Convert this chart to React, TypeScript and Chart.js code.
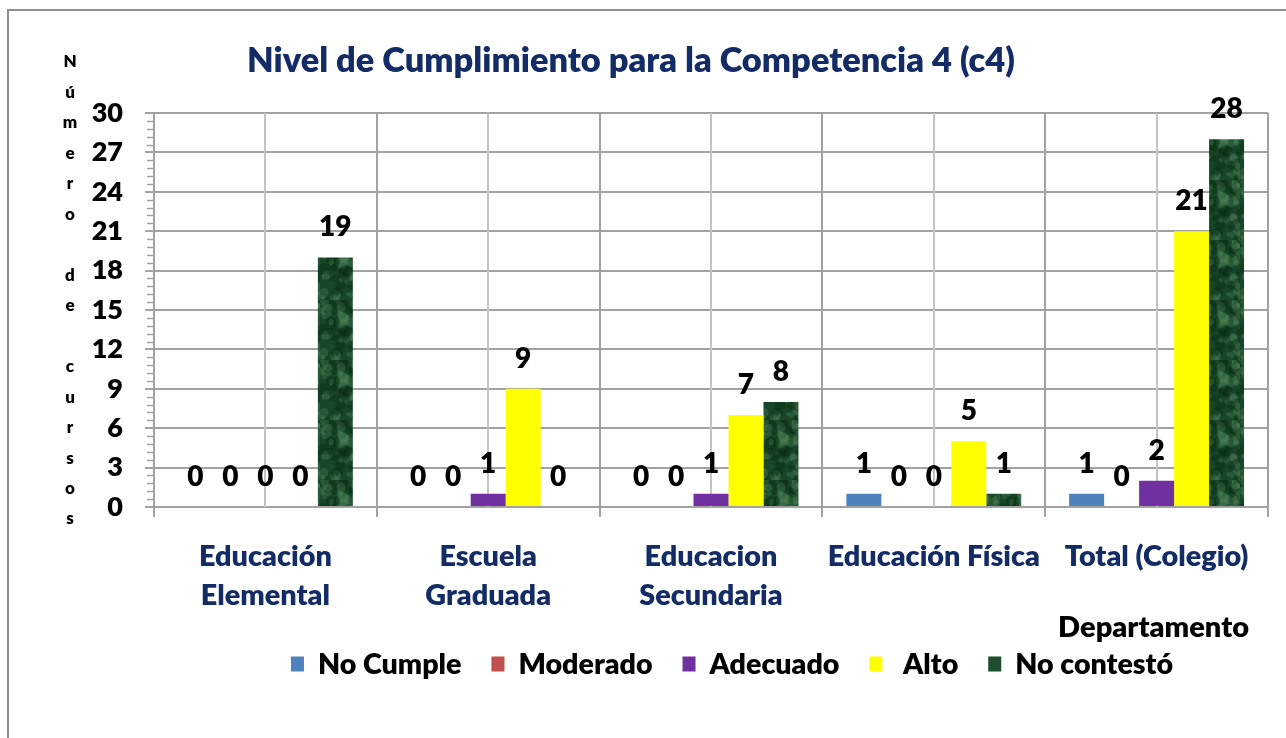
import React, { useEffect, useRef } from 'react';
import { Chart, registerables } from 'chart.js';

Chart.register(...registerables);

// ---------- data ----------
const categories: string[][] = [
  ['Educación', 'Elemental'],
  ['Escuela', 'Graduada'],
  ['Educacion', 'Secundaria'],
  ['Educación Física'],
  ['Total (Colegio)'],
];
const seriesNames = ['No Cumple', 'Moderado', 'Adecuado', ' Alto', 'No contestó'];
const noCumple = [0, 0, 0, 1, 1];
const moderado = [0, 0, 0, 0, 0];
const adecuado = [0, 1, 1, 0, 2];
const alto = [0, 9, 7, 5, 21];
const noContesto = [19, 0, 8, 1, 28];
const yMin = 0;
const yMax = 30;
const yStep = 3;
const chartTitle = 'Nivel de Cumplimiento para la Competencia 4 (c4)';
const yAxisTitle = 'Número de cursos';
const xAxisTitle = 'Departamento';

// ---------- styles ----------
const FONT = 'Lato, "Open Sans", sans-serif';
const W = 800;
const NAVY = '#132C66';
const GRID = '#A2A2A2';
const GRID_MINOR = '#C4C4C4';
const seriesColors = ['#4F81BD', '#C0504D', '#7030A0', '#FFFF00', '#1D4D2C'];

function hash(n: number): number {
  const s = Math.sin(n * 12.9898 + 78.233) * 43758.5453;
  return s - Math.floor(s);
}

function makeMarble(ctx: CanvasRenderingContext2D): CanvasPattern | string {
  const c = document.createElement('canvas');
  c.width = 40;
  c.height = 60;
  const g = c.getContext('2d');
  if (!g) return '#1D4D2C';
  g.fillStyle = '#174527';
  g.fillRect(0, 0, 40, 60);
  for (let i = 0; i < 70; i++) {
    const x = hash(i) * 40;
    const y = hash(i + 100) * 60;
    const r = 1.5 + hash(i + 200) * 5;
    const light = hash(i + 300) > 0.55;
    g.fillStyle = light ? 'rgba(110,170,120,0.22)' : 'rgba(5,40,15,0.35)';
    g.beginPath();
    g.ellipse(x, y, r, r * (0.6 + hash(i + 400)), hash(i + 500) * 3, 0, Math.PI * 2);
    g.fill();
  }
  return ctx.createPattern(c, 'repeat') || '#1D4D2C';
}

const decorPlugin = {
  id: 'decor',
  beforeDraw(chart: any) {
    const ctx = chart.ctx as CanvasRenderingContext2D;
    ctx.save();
    ctx.fillStyle = '#ffffff';
    ctx.fillRect(0, 0, chart.width, chart.height);
    ctx.strokeStyle = '#8E8E8E';
    ctx.lineWidth = 2;
    ctx.beginPath();
    ctx.moveTo(8, chart.height + 5);
    ctx.lineTo(8, 10);
    ctx.lineTo(chart.width + 5, 10);
    ctx.stroke();
    ctx.restore();
  },
  beforeDatasetsDraw(chart: any) {
    const ctx = chart.ctx as CanvasRenderingContext2D;
    const xs = chart.scales.x;
    const ys = chart.scales.y;
    const area = chart.chartArea;
    ctx.save();
    ctx.strokeStyle = GRID_MINOR;
    ctx.lineWidth = 2;
    for (let i = 0; i < categories.length; i++) {
      const x = Math.round(xs.getPixelForValue(i));
      ctx.beginPath();
      ctx.moveTo(x, area.top);
      ctx.lineTo(x, area.bottom);
      ctx.stroke();
    }
    ctx.strokeStyle = GRID;
    ctx.lineWidth = 1.5;
    const minorStep = yStep / 5;
    for (let k = 0; k * minorStep <= yMax + 1e-9; k++) {
      if (k % 5 === 0) continue;
      const y = Math.round(ys.getPixelForValue(k * minorStep)) + 0.5;
      ctx.beginPath();
      ctx.moveTo(area.left - 7, y);
      ctx.lineTo(area.left, y);
      ctx.stroke();
    }
    ctx.restore();
  },
  afterDatasetsDraw(chart: any) {
    const ctx = chart.ctx as CanvasRenderingContext2D;
    ctx.save();
    ctx.fillStyle = '#000000';
    ctx.font = `${W} 28px ${FONT}`;
    ctx.textAlign = 'center';
    ctx.textBaseline = 'middle';
    chart.data.datasets.forEach((ds: any, di: number) => {
      const meta = chart.getDatasetMeta(di);
      meta.data.forEach((el: any, i: number) => {
        ctx.fillText(String(ds.data[i]), el.x, el.y - 30);
      });
    });
    ctx.restore();
  },
  afterDraw(chart: any) {
    const ctx = chart.ctx as CanvasRenderingContext2D;
    ctx.save();
    ctx.fillStyle = NAVY;
    ctx.font = `${W} 34.4px ${FONT}`;
    ctx.textAlign = 'center';
    ctx.textBaseline = 'middle';
    ctx.fillText(chartTitle, 631, 61);
    ctx.fillStyle = '#000000';
    ctx.font = `${W} 17px ${FONT}`;
    const letters = Array.from(yAxisTitle);
    const y0 = 62;
    const y1 = 519;
    const step = (y1 - y0) / (letters.length - 1);
    letters.forEach((ch, i) => {
      if (ch !== ' ') ctx.fillText(ch, 70, y0 + i * step);
    });
    ctx.font = `${W} 29px ${FONT}`;
    ctx.textAlign = 'right';
    ctx.fillText(xAxisTitle, 1249, 628);
    ctx.font = `${W} 28.6px ${FONT}`;
    ctx.textAlign = 'left';
    const boxW = 13;
    const boxH = 15;
    const gapBox = 14;
    const gapItem = 30;
    const widths = seriesNames.map((n) => ctx.measureText(n).width);
    const total = widths.reduce((a, w) => a + boxW + gapBox + w, 0) + gapItem * (seriesNames.length - 1);
    let x = 732 - total / 2;
    const ly = 664;
    seriesNames.forEach((n, i) => {
      ctx.fillStyle = seriesColors[i];
      ctx.fillRect(x, ly - boxH / 2, boxW, boxH);
      x += boxW + gapBox;
      ctx.fillStyle = '#000000';
      ctx.fillText(n, x, ly + 1);
      x += widths[i] + gapItem;
    });
    ctx.restore();
  },
};

export default function App() {
  const ref = useRef<HTMLCanvasElement | null>(null);
  useEffect(() => {
    const canvas = ref.current;
    if (!canvas) return;
    const ctx = canvas.getContext('2d') as CanvasRenderingContext2D;
    const marble = makeMarble(ctx);
    const values = [noCumple, moderado, adecuado, alto, noContesto];
    const chart = new Chart(canvas, {
      type: 'bar',
      data: {
        labels: categories,
        datasets: seriesNames.map((name, i) => ({
          label: name,
          data: values[i],
          backgroundColor: i === 4 ? marble : seriesColors[i],
          borderWidth: 0,
          categoryPercentage: 0.785,
          barPercentage: 1,
        })),
      },
      options: {
        responsive: false,
        animation: false,
        events: [],
        layout: { padding: { left: 0, top: 113, right: 18, bottom: 0 } },
        plugins: {
          legend: { display: false },
          title: { display: false },
          tooltip: { enabled: false },
        },
        scales: {
          x: {
            offset: true,
            grid: {
              offset: true,
              color: GRID,
              lineWidth: 2,
              drawTicks: true,
              tickLength: 10,
            },
            border: { display: true, color: GRID, width: 2 },
            ticks: {
              color: NAVY,
              font: { family: FONT, size: 28.8, weight: W, lineHeight: 1.36 },
              padding: 20,
              maxRotation: 0,
              autoSkip: false,
            },
            afterFit: (scale: any) => {
              scale.height = 738 - 507;
            },
          },
          y: {
            min: yMin,
            max: yMax,
            grid: { color: GRID, lineWidth: 2, drawTicks: true, tickLength: 9 },
            border: { display: true, color: GRID, width: 2 },
            ticks: {
              stepSize: yStep,
              color: '#000000',
              font: { family: FONT, size: 27, weight: W },
              padding: 22,
            },
            afterFit: (scale: any) => {
              scale.width = 154;
            },
          },
        },
      },
      plugins: [decorPlugin],
    });
    return () => chart.destroy();
  }, []);
  return (
    <div style={{ position: 'fixed', left: 0, top: 0, width: 1286, height: 738, background: '#fff' }}>
      <canvas ref={ref} width={1286} height={738} style={{ display: 'block', width: 1286, height: 738 }} />
    </div>
  );
}
